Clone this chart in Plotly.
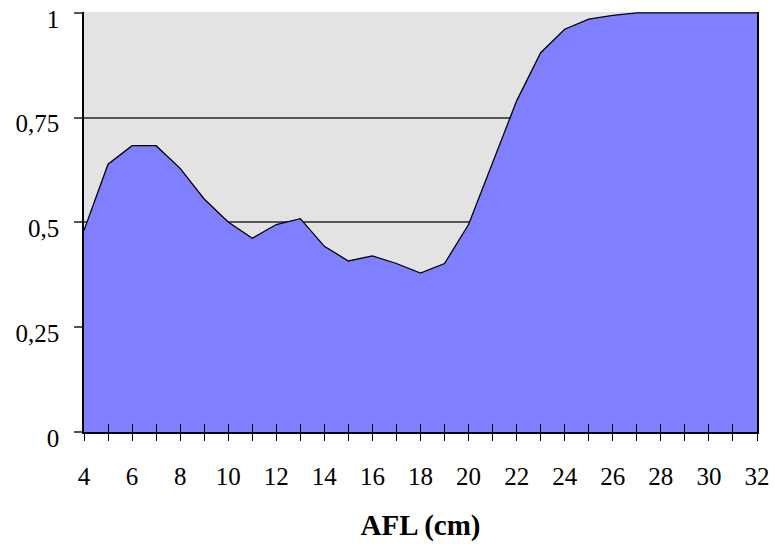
import plotly.graph_objects as go

afl = list(range(4, 33))
prop = [0.481, 0.639, 0.683, 0.683, 0.629, 0.556, 0.501, 0.462, 0.495, 0.509,
        0.443, 0.408, 0.420, 0.402, 0.379, 0.402, 0.495, 0.644, 0.790, 0.905,
        0.961, 0.985, 0.994, 1.0, 1.0, 1.0, 1.0, 1.0, 1.0]
xtick_vals = list(range(4, 33, 2))
ytick_vals = [0, 0.25, 0.5, 0.75, 1]
ytick_text = ["0", "0,25", "0,5", "0,75", "1"]

serif = "Liberation Serif, Times New Roman, serif"

fig = go.Figure()
fig.add_trace(go.Scatter(
    x=afl, y=prop, mode="lines", fill="tozeroy",
    fillcolor="#8080FF", line=dict(color="black", width=1.3),
    hoverinfo="skip", showlegend=False))
# dummy trace for overlay axis
fig.add_trace(go.Scatter(x=[afl[0], afl[-1]], y=[0, 0], xaxis="x2", mode="lines",
                         line=dict(width=0), showlegend=False, hoverinfo="skip"))

fig.update_layout(
    width=775, height=544,
    margin=dict(l=84, r=18, t=12, b=112),
    paper_bgcolor="white", plot_bgcolor="#E3E3E3",
    font=dict(family=serif, size=25, color="black"),
    xaxis=dict(range=[4, 32], tickvals=xtick_vals, ticks="outside", ticklen=7,
               tickcolor="black", tickwidth=1, automargin=False,
               minor=dict(dtick=1, tick0=4, ticks="outside", ticklen=7, tickcolor="black"),
               showgrid=False, zeroline=False, showline=True, linecolor="black", linewidth=1.5,
               ticklabelstandoff=14,
               title=dict(text="<b>AFL (cm)</b>", font=dict(family=serif, size=29), standoff=26)),
    xaxis2=dict(range=[4, 32], overlaying="x", anchor="y", side="bottom", dtick=1, tick0=4,
                ticks="inside", ticklen=8, tickcolor="black", showticklabels=False,
                showgrid=False, zeroline=False, showline=False, automargin=False),
    yaxis=dict(range=[0, 1.002], tickvals=ytick_vals, ticktext=ytick_text,
               ticks="outside", ticklen=8, tickcolor="#555555", tickwidth=1.5,
               showgrid=True, gridcolor="#555555", gridwidth=1.5, automargin=False,
               zeroline=False, showline=True, linecolor="black", linewidth=1.5, mirror=True,
               ticklabelstandoff=10, ticklabelshift=6, ticklabeloverflow="allow"),
)

fig.write_html("out.html")
